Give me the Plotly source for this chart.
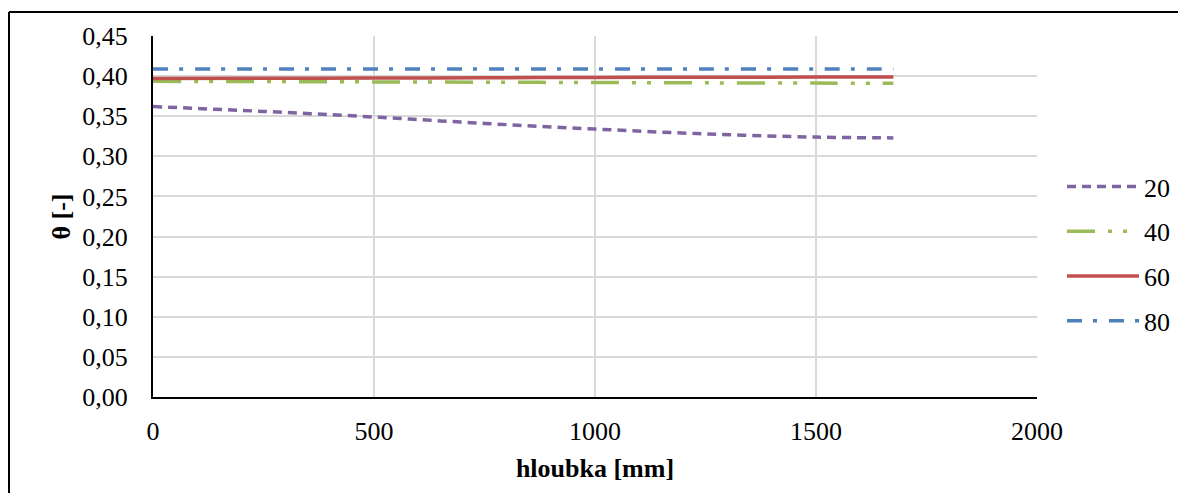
import plotly.graph_objects as go

depth = [0, 250, 500, 750, 1000, 1250, 1500, 1675]
theta_20 = [0.362, 0.356, 0.349, 0.341, 0.334, 0.328, 0.324, 0.323]
theta_40 = [0.3935, 0.3932, 0.3928, 0.3924, 0.392, 0.3916, 0.3913, 0.391]
theta_60 = [0.397, 0.3973, 0.3976, 0.398, 0.3983, 0.3986, 0.3988, 0.399]
theta_80 = [0.409, 0.409, 0.409, 0.409, 0.409, 0.409, 0.409, 0.409]
names = ["20", "40", "60", "80"]
x_ticks = [0, 500, 1000, 1500, 2000]

# page has an 8px body margin; figure sized to fit inside the window
W, H = 1178, 485
L, R, T, B = 145, 1029, 28, 389

series = [
    (theta_20, "#8064a2", "9px,6px"),
    (theta_40, "#9bbb59", "28px,13px,4px,11px,4px,13px"),
    (theta_60, "#c0504d", "solid"),
    (theta_80, "#4f81bd", "15px,11px,4px,12px"),
]

fig = go.Figure()
for nm, (vals, col, dash) in zip(names, series):
    fig.add_trace(go.Scatter(
        x=depth, y=vals, mode="lines", name=nm, legendgroup=nm,
        line=dict(color=col, width=3.5, dash=dash, shape="spline"),
    ))

font = "'Liberation Serif', 'Times New Roman', serif"

def px_x(px):
    return (px - L) / (R - L)

def px_y(py):
    return (B - py) / (B - T)

fig.update_layout(
    width=W, height=H,
    margin=dict(l=L, r=W - R, t=T, b=H - B, autoexpand=False),
    paper_bgcolor="white", plot_bgcolor="white",
    separators=", ",
    font=dict(family=font, size=26, color="black"),
    showlegend=True,
    legend=dict(
        xref="container", yref="container",
        x=1054 / W, y=1 - 155 / H, xanchor="left", yanchor="top",
        font=dict(family=font, size=26, color="black"),
        itemwidth=72, tracegroupgap=8, traceorder="grouped",
        bgcolor="rgba(0,0,0,0)",
    ),
    xaxis=dict(
        range=[0, 2000], tickvals=x_ticks, showgrid=True, gridcolor="#d9d9d9",
        gridwidth=1.5, showline=True, linecolor="black", linewidth=2,
        zeroline=False, ticks="", ticklabelstandoff=10,
        title=dict(text="<b>hloubka [mm]</b>", standoff=14,
                   font=dict(family=font, size=26)),
        tickfont=dict(family=font, size=26),
    ),
    yaxis=dict(
        range=[0, 0.45], dtick=0.05, tickformat=".2f", showgrid=True,
        gridcolor="#d9d9d9", gridwidth=1.5, showline=True, linecolor="black",
        linewidth=2, zeroline=False, ticks="", ticklabelstandoff=18,
        title=dict(text="<b>θ [-]</b>", standoff=4,
                   font=dict(family=font, size=26)),
        tickfont=dict(family=font, size=26),
    ),
    shapes=[
        dict(type="line", xref="paper", yref="paper",
             x0=px_x(1), x1=px_x(1190), y0=px_y(4), y1=px_y(4),
             line=dict(color="black", width=2)),
        dict(type="line", xref="paper", yref="paper",
             x0=px_x(1), x1=px_x(1), y0=px_y(4), y1=px_y(490),
             line=dict(color="black", width=2)),
    ],
)

fig.write_html("out.html")
